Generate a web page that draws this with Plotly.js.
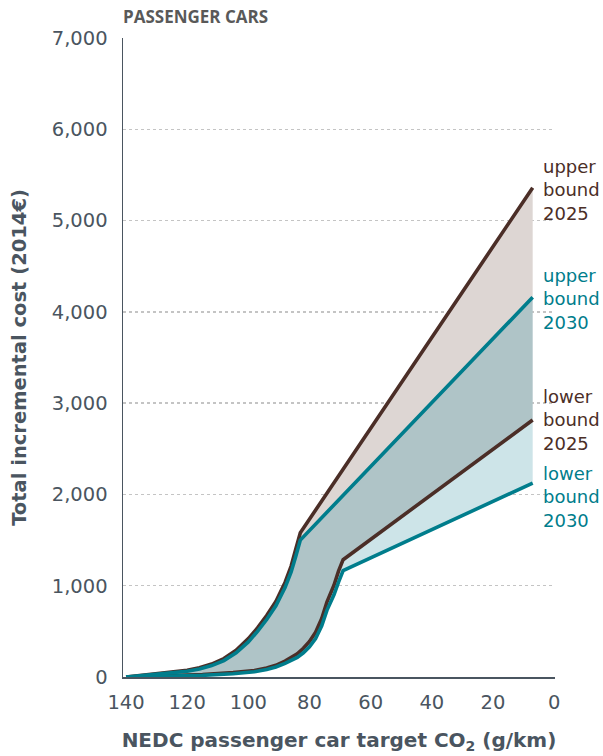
<!DOCTYPE html>
<html>
<head>
<meta charset="utf-8">
<script src="https://cdn.plot.ly/plotly-3.0.1.min.js"></script>
<style>
  html, body { margin: 0; padding: 0; background: #fff; }
  #chart { width: 603px; height: 756px; }
</style>
</head>
<body>
<div id="chart"></div>
<script>
// ---- Data ----
const upperX    = [140, 135, 130, 125, 120, 116, 112, 108, 104, 100, 97, 94, 91, 88, 86, 84.5, 83, 7];
const upper2025 = [0, 20, 36, 52, 74, 102, 142, 202, 292, 420, 538, 673, 828, 1036, 1215, 1400, 1580, 5360];
const upper2030 = [0, 15, 28, 42, 62, 88, 125, 180, 265, 385, 500, 630, 780, 980, 1150, 1320, 1500, 4160];

const lowerX    = [140, 125, 115, 105, 98, 94, 91, 88, 86, 84, 82, 80, 78, 76, 74.3, 72, 70.5, 69, 7];
const lower2025 = [0, 16, 28, 48, 72, 98, 128, 175, 212, 255, 315, 390, 490, 640, 820, 1005, 1160, 1285, 2815];
const lower2030 = [0, 8, 18, 35, 58, 82, 110, 150, 180, 215, 265, 330, 420, 560, 730, 900, 1040, 1165, 2125];

const xTicks = [140, 120, 100, 80, 60, 40, 20, 0];
const yTicks = [0, 1000, 2000, 3000, 4000, 5000, 6000, 7000];

const seriesLabels = {
  upper2025: 'upper<br>bound<br>2025',
  upper2030: 'upper<br>bound<br>2030',
  lower2025: 'lower<br>bound<br>2025',
  lower2030: 'lower<br>bound<br>2030'
};

// ---- Styles ----
const BROWN = '#4b2e27';
const TEAL = '#007d8c';
const FILL_TOP = '#ddd6d3';
const FILL_MID = '#afc4c7';
const FILL_LOW = '#cde4e8';
const AXIS = '#4a5560';
const FONT = 'DejaVu Sans, sans-serif';
const LW = 3.6;

const traces = [
  // fills
  {x: lowerX, y: lower2030, mode: 'lines', line: {width: 0}, hoverinfo: 'skip', showlegend: false},
  {x: lowerX, y: lower2025, mode: 'lines', line: {width: 0}, fill: 'tonexty', fillcolor: FILL_LOW, hoverinfo: 'skip', showlegend: false},
  {x: upperX, y: upper2030, mode: 'lines', line: {width: 0}, fill: 'tonexty', fillcolor: FILL_MID, hoverinfo: 'skip', showlegend: false},
  {x: upperX, y: upper2025, mode: 'lines', line: {width: 0}, fill: 'tonexty', fillcolor: FILL_TOP, hoverinfo: 'skip', showlegend: false},
  // lines
  {x: upperX, y: upper2025, mode: 'lines', line: {color: BROWN, width: LW}, showlegend: false, name: 'upper bound 2025'},
  {x: lowerX, y: lower2025, mode: 'lines', line: {color: BROWN, width: LW}, showlegend: false, name: 'lower bound 2025'},
  {x: upperX, y: upper2030, mode: 'lines', line: {color: TEAL, width: LW}, showlegend: false, name: 'upper bound 2030'},
  {x: lowerX, y: lower2030, mode: 'lines', line: {color: TEAL, width: LW}, showlegend: false, name: 'lower bound 2030'}
];

const annFont = (c) => ({family: FONT, size: 18, color: c});
const annX = 4.3;

const layout = {
  width: 603,
  height: 756,
  margin: {l: 123, r: 48, t: 38, b: 79},
  paper_bgcolor: '#ffffff',
  plot_bgcolor: '#ffffff',
  font: {family: FONT, color: AXIS},
  title: {
    text: '<b>PASSENGER CARS</b>',
    font: {family: 'Open Sans, sans-serif', size: 17, color: '#595959'},
    xref: 'paper', x: 0, xanchor: 'left',
    yref: 'container', y: 1 - 17 / 756, yanchor: 'middle'
  },
  xaxis: {
    range: [141, -0.3],
    tickvals: xTicks,
    ticktext: xTicks.map(String),
    ticks: 'outside', ticklen: 7, tickcolor: 'rgba(0,0,0,0)',
    tickfont: {family: FONT, size: 19.5, color: AXIS},
    showgrid: false, zeroline: false,
    showline: true, linecolor: AXIS, linewidth: 1.5,
    title: {
      text: '<b>NEDC passenger car target CO<sub>2</sub> (g/km)</b>',
      font: {family: FONT, size: 20, color: AXIS},
      standoff: 20
    }
  },
  yaxis: {
    range: [0, 7000],
    tickvals: yTicks,
    ticktext: yTicks.map(v => v.toLocaleString('en-US')),
    ticks: 'outside', ticklen: 10, tickcolor: 'rgba(0,0,0,0)',
    tickfont: {family: FONT, size: 19.5, color: AXIS},
    showgrid: true, gridcolor: '#c4c4c4', griddash: 'dot', gridwidth: 1.5,
    zeroline: false,
    showline: true, linecolor: AXIS, linewidth: 1.5,
    title: {
      text: '<b>Total incremental cost (2014€)</b>',
      font: {family: FONT, size: 19.5, color: AXIS},
      standoff: 20
    }
  },
  annotations: [
    {text: seriesLabels.upper2025, x: annX, y: upper2025[upper2025.length - 1] - 25, xref: 'x', yref: 'y', xanchor: 'left', yanchor: 'middle', align: 'left', showarrow: false, font: annFont(BROWN)},
    {text: seriesLabels.upper2030, x: annX, y: upper2030[upper2030.length - 1] - 20, xref: 'x', yref: 'y', xanchor: 'left', yanchor: 'middle', align: 'left', showarrow: false, font: annFont(TEAL)},
    {text: seriesLabels.lower2025, x: annX, y: lower2025[lower2025.length - 1], xref: 'x', yref: 'y', xanchor: 'left', yanchor: 'middle', align: 'left', showarrow: false, font: annFont(BROWN)},
    {text: seriesLabels.lower2030, x: annX, y: lower2030[lower2030.length - 1] - 150, xref: 'x', yref: 'y', xanchor: 'left', yanchor: 'middle', align: 'left', showarrow: false, font: annFont(TEAL)}
  ]
};

Plotly.newPlot('chart', traces, layout, {displayModeBar: false, staticPlot: true});
</script>
</body>
</html>
